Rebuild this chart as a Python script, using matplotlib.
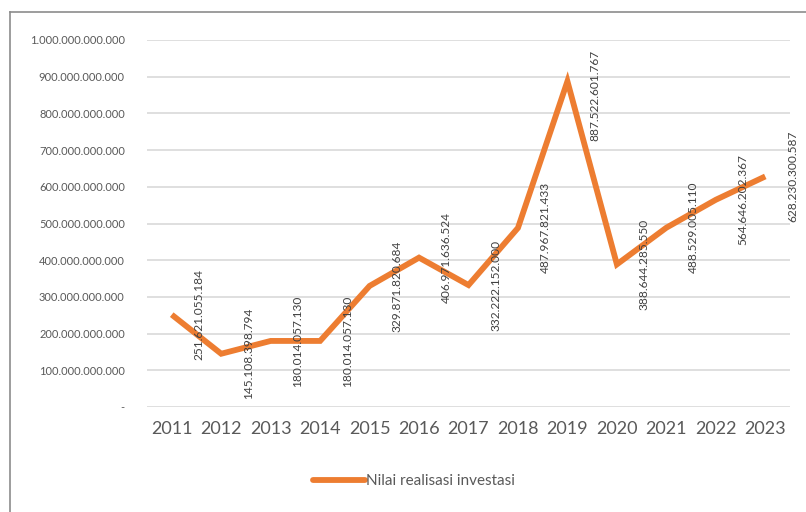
import numpy as np
import matplotlib.pyplot as plt
import matplotlib.ticker as mtick
from matplotlib.lines import Line2D

years = ['2011', '2012', '2013', '2014', '2015', '2016', '2017',
         '2018', '2019', '2020', '2021', '2022', '2023']
nilai = [251621055184, 145108398794, 180014057130, 180014057130,
         329871820684, 406971636524, 332222152000, 487967821433,
         887522601767, 388644285550, 488529005110, 564646202367,
         628230300587]
series_name = 'Nilai realisasi investasi'

plt.rcParams['font.family'] = ['Lato', 'DejaVu Sans']
orange = '#ED7D31'
grey = '#595959'


def fmt_id(v, pos=None):
    # Indonesian style thousands separator
    if v == 0:
        return '-'
    return f'{int(round(v)):,}'.replace(',', '.')


fig = plt.figure(figsize=(8.06, 5.12), dpi=100)
ax = fig.add_axes([147 / 806, 105 / 512, 643 / 806, 367 / 512])

x = np.arange(len(years))
ax.plot(x, nilai, color=orange, lw=4.2, solid_capstyle='butt', solid_joinstyle='miter', zorder=3)

for xi, v in zip(x, nilai):
    ax.text(xi + 0.55, min(v, 8.5e11), fmt_id(v), rotation=90, ha='center', va='center',
            fontsize=8.6, color='#404040', zorder=4)

ax.set_xlim(-0.5, len(years) - 0.5)
ax.set_ylim(0, 1e12)
ax.set_yticks(np.arange(0, 1.01e12, 1e11))
ax.yaxis.set_major_formatter(mtick.FuncFormatter(fmt_id))
ax.set_xticks(x)
ax.set_xticklabels(years)
ax.tick_params(axis='x', length=0, labelsize=13, labelcolor=grey, pad=10)
ax.tick_params(axis='y', length=0, labelsize=8, labelcolor=grey, pad=16)
ax.grid(axis='y', color='#d9d9d9', lw=1.2)
ax.set_axisbelow(True)
for s in ax.spines.values():
    s.set_visible(False)

# chart frame (left + top edges visible)
fig.add_artist(Line2D([10 / 806, 10 / 806], [0, 500 / 512], color='#8c8c8c', lw=1.2))
fig.add_artist(Line2D([10 / 806, 1], [500 / 512, 500 / 512], color='#8c8c8c', lw=1.2))

fig.legend(handles=[Line2D([], [], color=orange, lw=4.2, solid_capstyle='round')],
           labels=[series_name], loc='center', bbox_to_anchor=(414 / 806, 31 / 512),
           frameon=False, fontsize=11, labelcolor=grey, handlelength=3.4, handletextpad=0.1)

fig.savefig('out.png', dpi=100)
